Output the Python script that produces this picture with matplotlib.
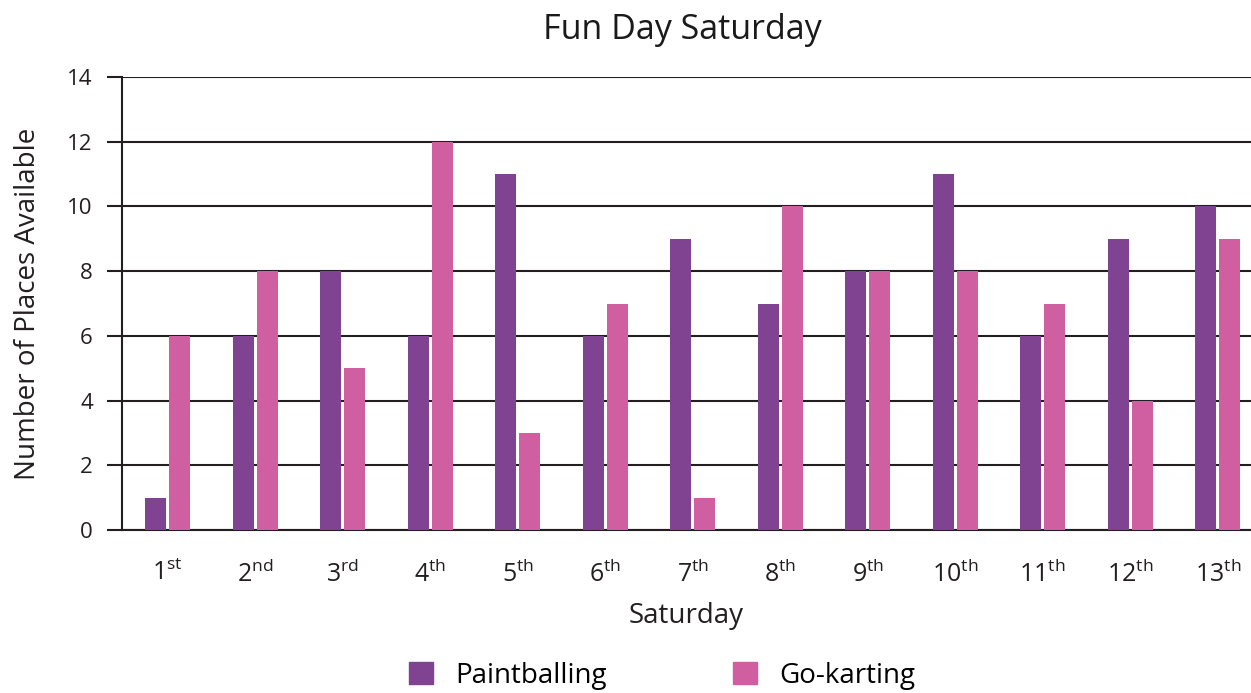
import matplotlib
matplotlib.use("Agg")
import matplotlib.pyplot as plt
import numpy as np
from matplotlib.patches import Patch

plt.rcParams["font.family"] = ["Open Sans", "DejaVu Sans"]
plt.rcParams["mathtext.fontset"] = "custom"
plt.rcParams["mathtext.rm"] = "Open Sans"

saturdays = ["1", "2", "3", "4", "5", "6", "7", "8", "9", "10", "11", "12", "13"]
suffixes = ["st", "nd", "rd", "th", "th", "th", "th", "th", "th", "th", "th", "th", "th"]
paintballing = [1, 6, 8, 6, 11, 6, 9, 7, 8, 11, 6, 9, 10]
go_karting = [6, 8, 5, 12, 3, 7, 1, 10, 8, 8, 7, 4, 9]

PURPLE = "#7f4391"
PINK = "#d05fa2"
DARK = "#231f20"

fig = plt.figure(figsize=(12.51, 6.93), dpi=100)
ax = fig.add_axes([122 / 1251, 1 - 530 / 693, 1 - 122 / 1251, (530 - 77) / 693])

x = np.arange(len(saturdays))
w = 0.24
off = 0.137
ax.bar(x - off, paintballing, w, color=PURPLE, zorder=3)
ax.bar(x + off, go_karting, w, color=PINK, zorder=3)

ax.set_xlim(-0.52, 12.38)
ax.set_ylim(0, 14)
ax.set_yticks(range(0, 15, 2))
ax.yaxis.grid(True, color=DARK, lw=1.5)
ax.set_axisbelow(True)
ax.tick_params(axis="y", length=11, width=1.5, color=DARK, pad=10, labelsize=16, labelcolor=DARK)
ax.set_xticks(x)
ax.set_xticklabels([f"{n}$^{{\\mathrm{{{s}}}}}$" for n, s in zip(saturdays, suffixes)])
ax.tick_params(axis="x", length=0, pad=22, labelsize=18, labelcolor=DARK)
for s in ["top", "right"]:
    ax.spines[s].set_visible(False)
ax.spines["left"].set_color(DARK)
ax.spines["left"].set_linewidth(1.5)
ax.spines["bottom"].set_color(DARK)
ax.spines["bottom"].set_linewidth(1.5)

ax.set_xlabel("Saturday", fontsize=20, color=DARK, labelpad=10)
ax.set_ylabel("Number of Places Available", fontsize=20, color=DARK, labelpad=18)
fig.text(682 / 1251, 1 - 30 / 693, "Fun Day Saturday", ha="center", va="center",
         fontsize=24.5, color="#1a1a1a")

handles = [Patch(color=PURPLE, label="Paintballing"), Patch(color=PINK, label="Go-karting")]
fig.legend(handles=handles, loc="center", bbox_to_anchor=(662 / 1251, 1 - 676 / 693),
           ncol=2, frameon=False, fontsize=20, handlelength=0.85, handleheight=0.85,
           columnspacing=4.55, handletextpad=0.8)

fig.savefig("out.png", dpi=100)
